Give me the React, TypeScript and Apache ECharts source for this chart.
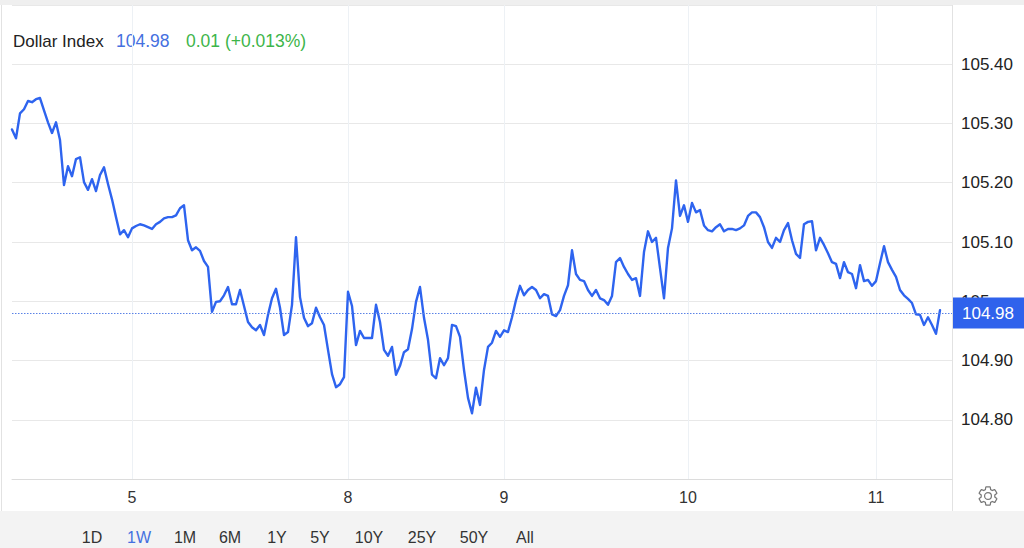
import React, { useEffect, useRef } from "react";
import * as echarts from "echarts";

// ---- data ----
const title = "Dollar Index";
const lastPriceText = "104.98";
const changeText = "0.01 (+0.013%)";
const lastLevel = 104.985;

const dayLabels = ["4", "5", "8", "9", "10", "11"];
const dayPointCounts = [30, 54, 39, 46, 47, 17];

const values = [
  105.290, 105.275, 105.317, 105.324, 105.338, 105.336, 105.341, 105.343, 105.322, 105.302,
  105.284, 105.302, 105.272, 105.196, 105.228, 105.211, 105.240, 105.243, 105.201, 105.188,
  105.206, 105.186, 105.213, 105.226, 105.198, 105.172, 105.142, 105.113, 105.120, 105.108,
  105.123, 105.127, 105.130, 105.128, 105.125, 105.122, 105.130, 105.134, 105.140, 105.142,
  105.142, 105.145, 105.157, 105.162, 105.103, 105.086, 105.091, 105.085, 105.068, 105.058,
  104.982, 104.999, 105.000, 105.010, 105.024, 104.995, 104.995, 105.019, 104.992, 104.965,
  104.956, 104.951, 104.960, 104.943, 104.977, 105.005, 105.021, 104.989, 104.943, 104.948,
  104.994, 105.108, 105.007, 104.972, 104.958, 104.963, 104.989, 104.973, 104.960, 104.918,
  104.877, 104.855, 104.860, 104.872, 105.016, 104.992, 104.926, 104.950, 104.938, 104.938,
  104.938, 104.994, 104.965, 104.918, 104.908, 104.923, 104.876, 104.891, 104.914, 104.919,
  104.953, 104.999, 105.024, 104.972, 104.935, 104.876, 104.870, 104.904, 104.892, 104.904,
  104.960, 104.958, 104.940, 104.884, 104.837, 104.811, 104.854, 104.825, 104.884, 104.923,
  104.930, 104.950, 104.940, 104.951, 104.948, 104.973, 105.002, 105.026, 105.010, 105.019,
  105.024, 105.019, 105.005, 105.012, 105.009, 104.978, 104.975, 104.985, 105.009, 105.027,
  105.086, 105.046, 105.036, 105.034, 105.019, 105.009, 105.019, 105.005, 105.002, 104.994,
  105.009, 105.066, 105.073, 105.058, 105.046, 105.036, 105.039, 105.009, 105.083, 105.118,
  105.100, 105.107, 105.056, 105.005, 105.090, 105.123, 105.204, 105.144, 105.162, 105.134,
  105.166, 105.150, 105.154, 105.128, 105.120, 105.118, 105.125, 105.130, 105.118, 105.122,
  105.122, 105.120, 105.123, 105.128, 105.144, 105.150, 105.150, 105.142, 105.125, 105.100,
  105.090, 105.107, 105.100, 105.120, 105.132, 105.103, 105.080, 105.073, 105.130, 105.134,
  105.135, 105.086, 105.107, 105.095, 105.081, 105.066, 105.063, 105.039, 105.066, 105.049,
  105.046, 105.022, 105.061, 105.034, 105.036, 105.026, 105.034, 105.064, 105.093, 105.066,
  105.053, 105.041, 105.019, 105.010, 105.004, 104.997, 104.978, 104.977, 104.960, 104.973,
  104.960, 104.945, 104.985,
];

const yMin = 104.7;
const yMax = 105.5;
const yStep = 0.1;

const rangeButtons = ["1D", "1W", "1M", "6M", "1Y", "5Y", "10Y", "25Y", "50Y", "All"];
const activeRange = "1W";

// ---- layout (not data) ----
const FONT = "'Liberation Sans', Arial, Helvetica, sans-serif";
const LINE_COLOR = "#2e64ef";
const buttonCenters = [92, 139, 185, 230, 277, 320, 369, 422, 474, 525];
const GEAR_D =
  "M19.14,12.94c0.04-0.3,0.06-0.61,0.06-0.94c0-0.32-0.02-0.64-0.07-0.94l2.03-1.58c0.18-0.14,0.23-0.41,0.12-0.61l-1.92-3.32c-0.12-0.22-0.37-0.29-0.59-0.22l-2.39,0.96c-0.5-0.38-1.03-0.7-1.62-0.94L14.4,2.81c-0.04-0.24-0.24-0.41-0.48-0.41h-3.84c-0.24,0-0.43,0.17-0.47,0.41L9.25,5.35C8.66,5.59,8.12,5.92,7.63,6.29L5.24,5.33c-0.22-0.08-0.47,0-0.59,0.22L2.74,8.87C2.62,9.08,2.66,9.34,2.86,9.48l2.03,1.58C4.84,11.36,4.8,11.690,4.8,12s0.02,0.64,0.07,0.94l-2.03,1.58c-0.18,0.14-0.23,0.41-0.12,0.61l1.92,3.32c0.12,0.22,0.37,0.29,0.59,0.22l2.39-0.96c0.5,0.38,1.03,0.7,1.62,0.94l0.36,2.54c0.05,0.24,0.24,0.41,0.48,0.41h3.84c0.24,0,0.44-0.17,0.47-0.41l0.36-2.54c0.59-0.24,1.13-0.56,1.62-0.94l2.39,0.96c0.22,0.08,0.47,0,0.59-0.22l1.92-3.32c0.12-0.22,0.07-0.47-0.12-0.61L19.14,12.94z M12,15.6c-1.98,0-3.6-1.62-3.6-3.6s1.62-3.6,3.6-3.6s3.6,1.62,3.6,3.6S13.98,15.6,12,15.6z";

let gearRegistered = false;

export default function App() {
  const ref = useRef<HTMLDivElement>(null);

  useEffect(() => {
    document.body.style.margin = "0";
    if (!gearRegistered) {
      echarts.graphic.registerShape("gear", echarts.graphic.extendPath(GEAR_D, {}));
      gearRegistered = true;
    }
    const chart = echarts.init(ref.current!, null, { renderer: "svg" });

    const categories: string[] = [];
    const dayStarts = new Set<number>();
    dayLabels.forEach((d, k) => {
      dayStarts.add(categories.length);
      for (let j = 0; j < dayPointCounts[k]; j++) categories.push(d);
    });
    for (let p = 0; p < 3; p++) categories.push("");
    const showAt = (idx: number) => idx > 0 && dayStarts.has(idx);

    const option: any = {
      animation: false,
      backgroundColor: "#ffffff",
      grid: { left: 12, top: 5, right: 72, bottom: 69, containLabel: false },
      xAxis: {
        type: "category",
        data: categories,
        boundaryGap: false,
        axisLine: { show: true, lineStyle: { color: "#dcdcdc", width: 1 } },
        axisTick: { show: false },
        axisLabel: {
          interval: showAt,
          color: "#333",
          fontSize: 16,
          fontFamily: FONT,
          margin: 10,
        },
        splitLine: {
          show: true,
          interval: showAt,
          lineStyle: { color: "#edf1f5", width: 1 },
        },
      },
      yAxis: {
        type: "value",
        position: "right",
        min: yMin,
        max: yMax,
        interval: yStep,
        axisLine: { show: false },
        axisTick: { show: false },
        axisLabel: {
          showMinLabel: false,
          showMaxLabel: false,
          color: "#222",
          fontSize: 17,
          fontFamily: FONT,
          margin: 9,
          formatter: (v: number) => (Math.abs(v - 105) < 1e-6 ? "105" : v.toFixed(2)),
        },
        splitLine: { show: true, lineStyle: { color: "#e8e8e8", width: 1 } },
      },
      series: [
        {
          type: "line",
          data: values,
          showSymbol: false,
          symbol: "none",
          lineStyle: { color: LINE_COLOR, width: 2.4, join: "round", cap: "round" },
          z: 3,
          markLine: {
            silent: true,
            symbol: "none",
            data: [{ yAxis: lastLevel }],
            lineStyle: { color: "#5a82e6", type: [1.5, 1.5], width: 1 },
            label: {
              show: true,
              position: "end",
              distance: 1,
              formatter: lastPriceText,
              color: "#ffffff",
              backgroundColor: "#2f62ec",
              fontSize: 17,
              fontFamily: FONT,
              padding: [7, 12, 7, 9],
              lineHeight: 17,
            },
          },
        },
      ],
      graphic: [
        { type: "rect", left: 0, top: 0, shape: { width: 1024, height: 5 }, style: { fill: "#efefef" }, silent: true },
        { type: "line", shape: { x1: 1.5, y1: 5, x2: 1.5, y2: 511 }, style: { stroke: "#e2e2e2", lineWidth: 1 }, silent: true },
        { type: "line", shape: { x1: 952.5, y1: 5, x2: 952.5, y2: 511 }, style: { stroke: "#e2e2e2", lineWidth: 1 }, silent: true },
        { type: "rect", left: 0, top: 511, shape: { width: 1024, height: 37 }, style: { fill: "#f3f3f3" }, silent: true },
        {
          type: "text",
          x: 13,
          y: 41,
          style: { text: title, fill: "#222", font: `17px ${FONT}`, verticalAlign: "middle" },
        },
        {
          type: "text",
          x: 116,
          y: 41,
          style: { text: lastPriceText, fill: "#4570e0", font: `17.5px ${FONT}`, verticalAlign: "middle" },
        },
        {
          type: "text",
          x: 186,
          y: 41,
          style: { text: changeText, fill: "#3db54a", font: `17.5px ${FONT}`, verticalAlign: "middle" },
        },
        ...rangeButtons.map((b, k) => ({
          type: "text",
          x: buttonCenters[k],
          y: 537,
          style: {
            text: b,
            fill: b === activeRange ? "#4470e0" : "#333",
            font: `16px ${FONT}`,
            align: "center",
            verticalAlign: "middle",
          },
        })),
        {
          type: "gear",
          x: 988 - 12 * 0.95,
          y: 496 - 12 * 0.95,
          scaleX: 0.95,
          scaleY: 0.95,
          style: { fill: "none", stroke: "#777", lineWidth: 1.3 },
          silent: true,
        },
      ],
    };

    chart.setOption(option);
    return () => chart.dispose();
  }, []);

  return <div ref={ref} style={{ width: 1024, height: 548 }} />;
}
